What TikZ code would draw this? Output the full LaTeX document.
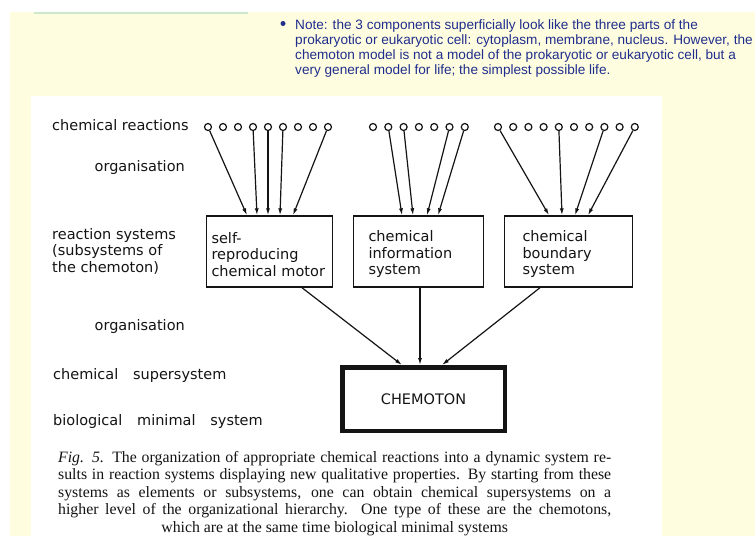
\documentclass[tikz,border=0pt]{standalone}
\usepackage{fontspec}
\setmainfont{Liberation Serif}
\newfontfamily\notefont{Liberation Sans}
\newfontfamily\letterfont{DejaVu Sans}
\newcommand\widewords{\spaceskip=14.8pt\relax}
\usetikzlibrary{arrows.meta}

\definecolor{pagebg}{HTML}{FFFDE0}
\definecolor{rulegreen}{HTML}{CDE8CD}
\definecolor{noteblue}{HTML}{1F2E8C}
\definecolor{inkblack}{HTML}{141414}

\begin{document}
\begin{tikzpicture}[x=1pt, y=-1pt,
        % 定義通用樣式
        level label/.style={font=\letterfont\fontsize{14.5}{16.5}\selectfont, text=inkblack, inner sep=0pt, align=left}, % 左側層級文字
        wide label/.style={level label, font=\letterfont\fontsize{14.5}{16.5}\selectfont\widewords}, % 字距較寬的層級文字
        reaction/.style={circle, draw=inkblack, line width=1.2pt, minimum size=7pt, inner sep=0pt}, % 化學反應小圓
        subsystem/.style={draw=inkblack, line width=1.4pt, minimum height=71pt, align=left, text=inkblack,
            font=\letterfont\fontsize{14.5}{16.5}\selectfont}, % 子系統方框
        flow/.style={draw=inkblack, line width=1.2pt, -{Latex[length=7pt,width=4pt]}}, % 箭頭
        note text/.style={font=\notefont\fontsize{13.6}{15.3}\selectfont, text=noteblue, inner sep=0pt, align=left} % 說明文字
    ]

        \useasboundingbox (0,0) rectangle (755,536);

        % --- 背景 ---
        \fill[white] (0,0) rectangle (755,536);
        \fill[pagebg] (10,12) rectangle (755,536);
        \draw[rulegreen, line width=2pt] (34,13) -- (248,13);
        \fill[white] (31,96) rectangle (662,536);

        % --- 說明 ---
        \node[circle, fill=noteblue, inner sep=0pt, minimum size=5pt] (bullet) at (283,23.5) {};
        \node[note text, anchor=north west] (note) at (295,19) {Note: the 3 components superficially look like the three parts of the\\
            prokaryotic or eukaryotic cell: cytoplasm, membrane, nucleus. However, the\\
            chemoton model is not a model of the prokaryotic or eukaryotic cell, but a\\
            very general model for life; the simplest possible life.};

        % --- 圖: 組織層級 ---
        \begin{scope}
            % 1. 左側層級文字
            \node[level label, anchor=mid west] (lreact) at (52,128) {chemical reactions};
            \node[level label, anchor=mid east] (lorg1) at (185,169) {organisation};
            \node[level label, anchor=mid west] (lsys1) at (52,237) {reaction systems};
            \node[level label, anchor=mid west] (lsys2) at (52,253) {(subsystems of};
            \node[level label, anchor=mid west] (lsys3) at (52,270) {the chemoton)};
            \node[level label, anchor=mid east] (lorg2) at (185,328) {organisation};
            \node[wide label, anchor=mid west] (lsuper) at (53,377) {chemical supersystem};
            \node[wide label, anchor=mid west] (lminimal) at (53,423) {biological minimal system};

            % 2. 三個子系統方框
            \node[subsystem, inner xsep=5pt, text width=116pt] (motor) at (269.5,251.5) {\rule{0pt}{17pt}self-\\reproducing\\chemical motor};
            \node[subsystem, inner xsep=15pt, text width=100pt] (info) at (418.5,251.5) {\rule{0pt}{17pt}chemical\\information\\system};
            \node[subsystem, inner xsep=18pt, text width=92pt] (boundary) at (568.5,251.5) {\rule{0pt}{17pt}chemical\\boundary\\system};

            % 3. 化學反應 (小圓)
            \foreach \i in {0,...,8}
                \node[reaction] (ma\i) at ({208+15*\i},127) {};
            \foreach \i in {0,...,6}
                \node[reaction] (ia\i) at ({373+15.3*\i},127) {};
            \foreach \i in {0,...,9}
                \node[reaction] (ba\i) at ({498+15.2*\i},127) {};

            % 4. 組織: 反應 -> 子系統
            \foreach \i/\dx in {0/-22.5, 3/-12.5, 4/-1.5, 5/10.5, 8/23.5}
                \draw[flow] (ma\i) -- ([xshift=\dx pt]motor.north);
            \foreach \i/\dx in {1/-16.5, 2/-5.5, 5/8.5, 6/19.5}
                \draw[flow] (ia\i) -- ([xshift=\dx pt]info.north);
            \foreach \i/\dx in {0/-19.5, 4/-6.5, 7/6.5, 9/19.5}
                \draw[flow] (ba\i) -- ([xshift=\dx pt]boundary.north);

            % 5. 超系統: CHEMOTON
            \node[draw=inkblack, line width=4.5pt, minimum width=162.5pt, minimum height=63.5pt, text=inkblack,
                font=\letterfont\fontsize{14.5}{16.5}\selectfont] (chemoton) at (423.5,399) {CHEMOTON};
            \draw[flow] ([xshift=32.5pt]motor.south) -- ([xshift=-21.5pt]chemoton.north);
            \draw[flow] ([xshift=1.5pt]info.south) -- ([xshift=-3.5pt]chemoton.north);
            \draw[flow] ([xshift=-28.5pt]boundary.south) -- ([xshift=18.5pt]chemoton.north);

            % 6. 圖說
            \node[anchor=north west, inner sep=0pt, text width=553pt, align=justify, text=inkblack,
                font=\fontsize{15.8}{17.5}\selectfont] (caption) at (58,451)
                {\textit{Fig. 5.} The organization of appropriate chemical reactions into a dynamic system re-\linebreak
                sults in reaction systems displaying new qualitative properties. By starting from these\linebreak
                systems as elements or subsystems, one can obtain chemical supersystems on a\linebreak
                higher level of the organizational hierarchy. One type of these are the chemotons,\linebreak
                \hspace*{\fill}which are at the same time biological minimal systems\hspace*{\fill}};
        \end{scope}

    \end{tikzpicture}
\end{document}
